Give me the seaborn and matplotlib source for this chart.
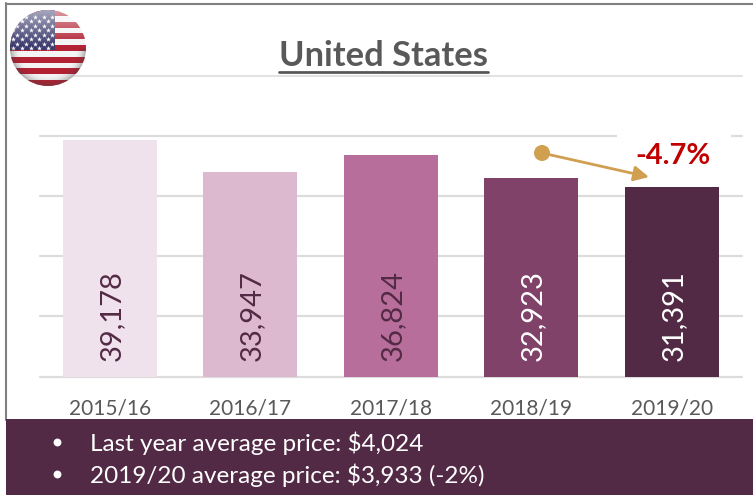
import numpy as np
import pandas as pd
import matplotlib
matplotlib.use("Agg")
import matplotlib.pyplot as plt
from matplotlib.patches import Circle, Rectangle
from matplotlib.lines import Line2D
import seaborn as sns

seasons = ["2015/16", "2016/17", "2017/18", "2018/19", "2019/20"]
values = [39178, 33947, 36824, 32923, 31391]
bar_colors = ["#F0E2EC", "#DCB9CF", "#B86E9A", "#804268", "#532A45"]
label_colors = ["#532A45", "#532A45", "#532A45", "#FFFFFF", "#FFFFFF"]
title = "United States"
change_label = "-4.7%"
bullets = ["Last year average price: $4,024", "2019/20 average price: $3,933 (-2%)"]

W, H = 753, 495
sns.set_theme(style="white")
plt.rcParams["font.family"] = ["Lato", "DejaVu Sans"]
fig = plt.figure(figsize=(W / 100, H / 100), dpi=100)


def box(l, t, r, b):
    return [l / W, 1 - b / H, (r - l) / W, (b - t) / H]


# pixel overlay
bg = fig.add_axes([0, 0, 1, 1], zorder=0)
bg.set_xlim(0, W)
bg.set_ylim(H, 0)
bg.axis("off")
bg.add_line(Line2D([6.5, 6.5], [3, 420], color="#808080", lw=1.5))
bg.add_line(Line2D([6, 753], [3.5, 3.5], color="#808080", lw=1.5))
bg.add_line(Line2D([70, 742], [75.5, 75.5], color="#E2E2E2", lw=1.4))

# chart
ax = fig.add_axes(box(39.75, 135.5, 742, 376.5), zorder=1)
ax.patch.set_alpha(0)
df = pd.DataFrame({"season": seasons, "value": values})
sns.barplot(data=df, x="season", y="value", hue="season", palette=bar_colors,
            legend=False, width=0.67, saturation=1, linewidth=0, edgecolor="none",
            ax=ax, zorder=3)
ax.set_ylim(0, 40000)
ax.set_yticks(np.arange(0, 40001, 10000))
ax.set_yticklabels([])
ax.set_xlabel("")
ax.set_ylabel("")
ax.grid(axis="y", color="#DCDCDC", lw=1.6, zorder=0, clip_on=False)
ax.set_axisbelow(True)
sns.despine(ax=ax, left=True, bottom=True, top=True, right=True)
ax.tick_params(axis="x", length=0, pad=15.5, labelsize=15, labelcolor="#595959")
ax.tick_params(axis="y", length=0)
for i, v in enumerate(values):
    ax.text(i + 0.012, 10050, f"{v:,}", rotation=90, ha="center", va="center",
            fontsize=21, color=label_colors[i], zorder=5)

# annotation overlay
top = fig.add_axes([0, 0, 1, 1], zorder=2)
top.set_xlim(0, W)
top.set_ylim(H, 0)
top.axis("off")
top.add_patch(Rectangle((617, 128), 114, 40, fc="white", ec="none", zorder=1))
top.text(673, 155.5, change_label, color="#C00000", fontsize=21, fontweight="bold",
         ha="center", va="center", zorder=5)
top.annotate("", xy=(649, 177), xytext=(542, 153),
             arrowprops=dict(arrowstyle="-|>,head_length=0.75,head_width=0.38", color="#D0A050",
                             lw=2, shrinkA=0, shrinkB=0), zorder=4)
top.add_patch(Circle((542, 153), 8, fc="#D0A050", ec="none", zorder=5))

# title
top.text(383.5, 56, title, color="#595959", fontsize=24.8, fontweight="bold", ha="center", va="center", zorder=5)
top.add_line(Line2D([279, 488], [72, 72], color="#595959", lw=2, zorder=5))

# footer band
top.add_patch(Rectangle((6, 419), W - 6, H - 419, fc="#532A45", ec="none", zorder=6))
top.scatter([57, 57], [442, 474], s=32, c="white", linewidths=0, zorder=7)
for y, s in zip([443.5, 475], bullets):
    top.text(90, y, s, color="white", fontsize=17.45, ha="left", va="center", zorder=7)
top.set_xlim(0, W)
top.set_ylim(H, 0)

# flag badge
fl = fig.add_axes(box(10, 10, 86, 86), zorder=3)
fl.set_xlim(-1, 1)
fl.set_ylim(-1, 1)
fl.axis("off")
clip = Circle((0, 0), 1, transform=fl.transData)
n = 13
for k in range(n):
    y0 = 1 - 2 * (k + 1) / n
    c = "#B22234" if k % 2 == 0 else "#F4F4F4"
    r = Rectangle((-1, y0), 2, 2 / n, fc=c, ec="none", zorder=1)
    fl.add_patch(r)
    r.set_clip_path(clip)
r = Rectangle((-1, -0.05), 1.18, 1.05, fc="#3C3B6E", ec="none", zorder=2)
fl.add_patch(r)
r.set_clip_path(clip)
sx = []
sy = []
for row in range(8):
    for col in range(9):
        xv = -0.92 + col * 0.23 + (0.115 if row % 2 else 0)
        if xv < 0.14:
            sx.append(xv)
            sy.append(0.0 + row * 0.118)
st = fl.scatter(sx, sy, marker="*", s=14, c="white", linewidths=0, zorder=3)
st.set_clip_path(clip)
g = np.linspace(-1, 1, 200)
X, Y = np.meshgrid(g, g)
R = np.hypot(X, Y)
shade = np.zeros((200, 200, 4))
edge = np.clip((R - 0.72) / 0.28, 0, 1) ** 2 * 0.4
gloss = np.clip((Y - 0.05) / 0.95, 0, 1) * 0.55
shade[..., :3] = np.where(Y[..., None] > 0, 1.0, 0.25)
shade[..., 3] = np.where(Y > 0, gloss, edge)
im = fl.imshow(shade, extent=(-1, 1, -1, 1), origin="lower", zorder=4, aspect="auto")
im.set_clip_path(clip)
fl.set_xlim(-1, 1)
fl.set_ylim(-1, 1)

fig.savefig("out.png", dpi=100)
